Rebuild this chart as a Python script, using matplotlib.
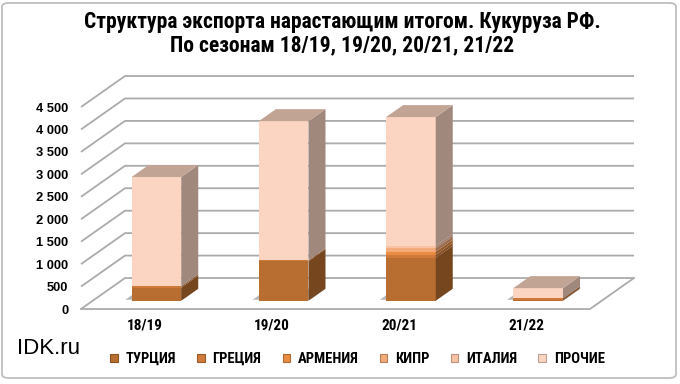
import matplotlib
matplotlib.use('Agg')
import matplotlib.pyplot as plt
from matplotlib import font_manager as fm
from matplotlib.patches import Polygon, Patch, FancyBboxPatch
import numpy as np

seasons = ['18/19', '19/20', '20/21', '21/22']
turkey = [290, 880, 960, 10]
greece = [30, 20, 60, 40]
armenia = [0, 0, 70, 0]
cyprus = [0, 0, 80, 0]
italy = [0, 0, 50, 0]
other = [2435, 3100, 2870, 230]
names = ['ТУРЦИЯ', 'ГРЕЦИЯ', 'АРМЕНИЯ', 'КИПР', 'ИТАЛИЯ', 'ПРОЧИЕ']
series = [turkey, greece, armenia, cyprus, italy, other]
colors = ['#b86e30', '#cf7a3a', '#e98c42', '#f4ab7a', '#f9c2a4', '#fcd5c2']
yticks = list(range(0, 4501, 500))

have = {f.name for f in fm.fontManager.ttflist}
SANS = 'Liberation Sans' if 'Liberation Sans' in have else 'DejaVu Sans'
NARROW, STRETCH = SANS, 'normal'
for cand in ['Liberation Sans Narrow', 'Arial Narrow', 'Roboto Condensed', 'Open Sans Condensed']:
    if cand in have:
        NARROW = cand
        break
else:
    cond = [f for f in fm.fontManager.ttflist
            if 'Condensed' in f.fname and f.name == 'DejaVu Sans']
    if cond:
        NARROW, STRETCH = 'DejaVu Sans', 'condensed'

# oblique "3d": depth d in [0,1] shifts by DX categories and DY value units
DX, DY = 0.3456, 690.0
D0, D1 = 0.268, 0.655
W = 0.39
GRID = '#ababab'


def P(x, v, d):
    return (x + d * DX, v + d * DY)


def shade(c, k):
    r, g, b = matplotlib.colors.to_rgb(c)
    return (r * k, g * k, b * k)


NF = dict(fontfamily=NARROW, fontstretch=STRETCH, fontweight='bold')

fig = plt.figure(figsize=(6.8, 3.84), dpi=100)
fig.patches.append(FancyBboxPatch((2 / 680, 6 / 384), 674 / 680, 375 / 384,
                                  boxstyle='round,pad=0,rounding_size=0.01',
                                  transform=fig.transFigure, fc='white',
                                  ec='#bfbfbf', lw=1.3, zorder=-10))
ax = fig.add_axes([81 / 680, 75 / 384, 509 / 680, 202 / 384])
ax.set_xlim(0, 4)
ax.set_ylim(0, 4500)
ax.patch.set_visible(False)
for s in ax.spines.values():
    s.set_visible(False)

# walls
for v in yticks:
    a, b, c = P(0, v, 0), P(0, v, 1), P(4, v, 1)
    ax.plot([a[0], b[0], c[0]], [a[1], b[1], c[1]], color=GRID, lw=1.3,
            clip_on=False, zorder=1, solid_capstyle='butt')
fl = [P(0, 0, 0), P(4, 0, 0), P(4, 0, 1)]
ax.plot([p[0] for p in fl], [p[1] for p in fl], color=GRID, lw=1.3,
        clip_on=False, zorder=1)

# bars
for i in range(len(seasons)):
    xl, xr = i + 0.5 - W / 2, i + 0.5 + W / 2
    sh = [P(xl - 0.06, 0, D0 + 0.03), P(xr, 0, D0 + 0.03), P(xr, 0, D1), P(xl - 0.06, 0, D1)]
    ax.add_patch(Polygon(sh, closed=True, fc='#606060', ec='none', alpha=0.45,
                         clip_on=False, zorder=2))
    base = 0
    top_color = None
    for vals, col in zip(series, colors):
        v = vals[i]
        if v <= 0:
            continue
        lo, hi = base, base + v
        front = [P(xl, lo, D0), P(xr, lo, D0), P(xr, hi, D0), P(xl, hi, D0)]
        side = [P(xr, lo, D0), P(xr, lo, D1), P(xr, hi, D1), P(xr, hi, D0)]
        ax.add_patch(Polygon(front, closed=True, fc=col, ec='none', clip_on=False, zorder=3))
        ax.add_patch(Polygon(side, closed=True, fc=shade(col, 0.64), ec='none', clip_on=False, zorder=3))
        base = hi
        top_color = col
    top = [P(xl, base, D0), P(xr, base, D0), P(xr, base, D1), P(xl, base, D1)]
    ax.add_patch(Polygon(top, closed=True, fc=shade(top_color, 0.77), ec='none',
                         clip_on=False, zorder=3))

ax.set_yticks(yticks)
ax.set_yticklabels([f'{v:,}'.replace(',', ' ') for v in yticks],
                   fontfamily=SANS, fontweight='bold', fontsize=9.3)
ax.set_xticks(np.arange(len(seasons)) + 0.5)
ax.set_xticklabels(seasons, **NF, fontsize=11)
ax.tick_params(axis='y', length=0, pad=9)
ax.tick_params(axis='x', length=0, pad=7)

fig.text(342 / 680, 1 - 22 / 384, 'Структура экспорта нарастающим итогом. Кукуруза РФ.',
         ha='center', va='center', **NF, fontsize=15.5)
fig.text(342 / 680, 1 - 45 / 384, 'По сезонам 18/19, 19/20, 20/21, 21/22',
         ha='center', va='center', **NF, fontsize=15.5)
fig.text(17 / 680, 1 - 348 / 384, 'IDK.ru', ha='left', va='center',
         fontfamily=SANS, fontsize=16)

handles = [Patch(fc=c, ec=shade(c, 0.75), lw=0.8) for c in colors]
fig.legend(handles, names, loc='center left', bbox_to_anchor=(103 / 680, 1 - 359 / 384),
           ncol=6, frameon=False, handlelength=0.5, handleheight=0.5,
           handletextpad=0.55, columnspacing=1.45, borderpad=0,
           prop={'family': NARROW, 'stretch': STRETCH, 'weight': 'bold', 'size': 10.5})

fig.savefig('out.png', dpi=100)
